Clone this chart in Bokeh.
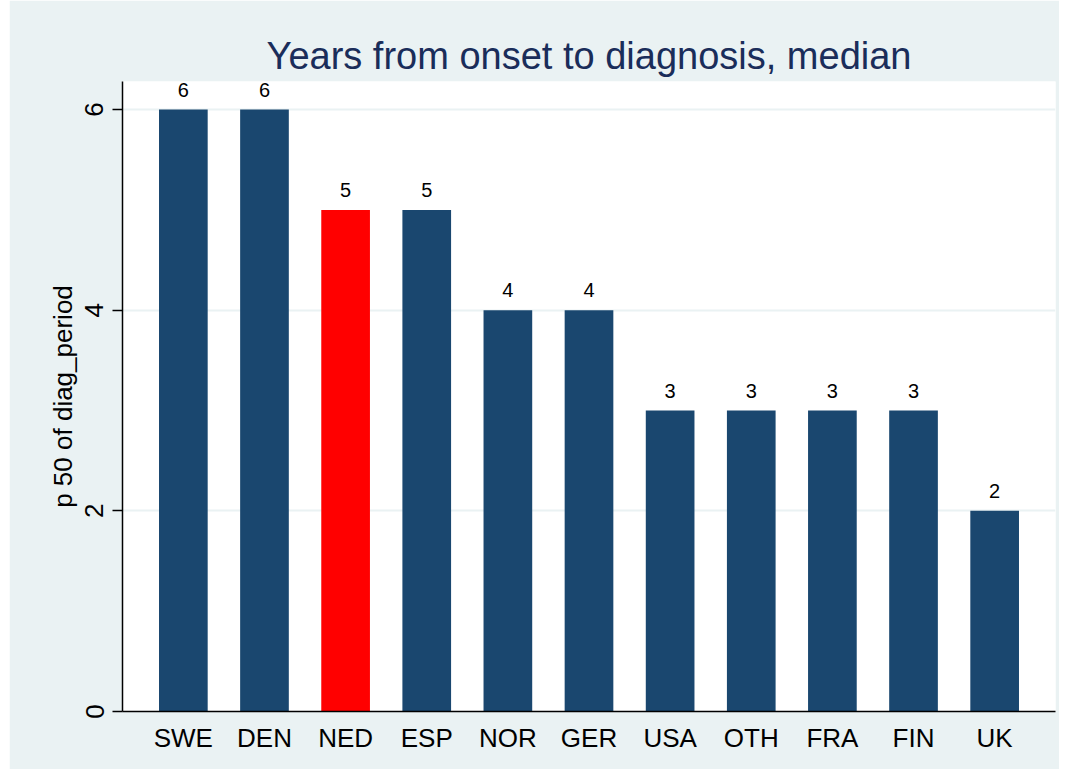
from bokeh.plotting import figure
from bokeh.models import ColumnDataSource, FactorRange, Range1d, FixedTicker, LabelSet
from bokeh.core.properties import value
from bokeh.embed import file_html
from bokeh.resources import INLINE

countries = ["SWE", "DEN", "NED", "ESP", "NOR", "GER", "USA", "OTH", "FRA", "FIN", "UK"]
median_years = [6, 6, 5, 5, 4, 4, 3, 3, 3, 3, 2]
highlight = "NED"
y_ticks = [0, 2, 4, 6]

NAVY = "#1a476f"
RED = "#ff0000"
BG = "#eaf2f3"
FONT = "Liberation Sans"

colors = [RED if c == highlight else NAVY for c in countries]
src = ColumnDataSource(dict(x=countries, top=median_years, color=colors,
                            label=[str(v) for v in median_years]))

p = figure(width=1050, height=769, output_backend="svg", toolbar_location=None,
           x_range=FactorRange(*countries, range_padding=0.25, range_padding_units="absolute"),
           y_range=Range1d(0, 6.28),
           min_border_left=113, min_border_right=4, min_border_top=81, min_border_bottom=58,
           title="Years from onset to diagnosis, median")
p.margin = (0, 0, 0, 9)

p.background_fill_color = "white"
p.border_fill_color = BG
p.outline_line_color = None

p.vbar(x="x", top="top", width=0.6, fill_color="color", line_color=None, source=src)

labels = LabelSet(x="x", y="top", text="label", source=src, text_align="center",
                  text_baseline="alphabetic", y_offset=13, text_font=value(FONT),
                  text_font_size="20px", text_color="black")
p.add_layout(labels)

p.title.align = "center"
p.title.text_font = FONT
p.title.text_font_size = "38px"
p.title.text_font_style = "normal"
p.title.text_color = "#1a2d5a"

p.xgrid.grid_line_color = None
p.ygrid.grid_line_color = BG
p.ygrid.grid_line_width = 2
p.ygrid.ticker = FixedTicker(ticks=y_ticks)

xa = p.xaxis[0]
xa.major_tick_line_color = None
xa.minor_tick_line_color = None
xa.axis_line_color = "black"
xa.axis_line_width = 1.5
xa.major_label_text_font = FONT
xa.major_label_text_font_size = "26px"
xa.major_label_text_color = "black"
xa.major_label_standoff = 5

ya = p.yaxis[0]
ya.ticker = FixedTicker(ticks=y_ticks)
ya.minor_tick_line_color = None
ya.major_tick_in = 0
ya.major_tick_out = 10
ya.major_tick_line_width = 1.5
ya.axis_line_width = 1.5
ya.axis_line_color = "black"
ya.major_label_orientation = "vertical"
ya.major_label_text_font = FONT
ya.major_label_text_font_size = "26px"
ya.major_label_text_color = "black"
ya.major_label_standoff = 9
ya.axis_label = "p 50 of diag_period"
ya.axis_label_text_font = FONT
ya.axis_label_text_font_size = "26px"
ya.axis_label_text_font_style = "normal"
ya.axis_label_text_color = "black"
ya.axis_label_standoff = 5

open("out.html", "w").write(file_html(p, INLINE))
